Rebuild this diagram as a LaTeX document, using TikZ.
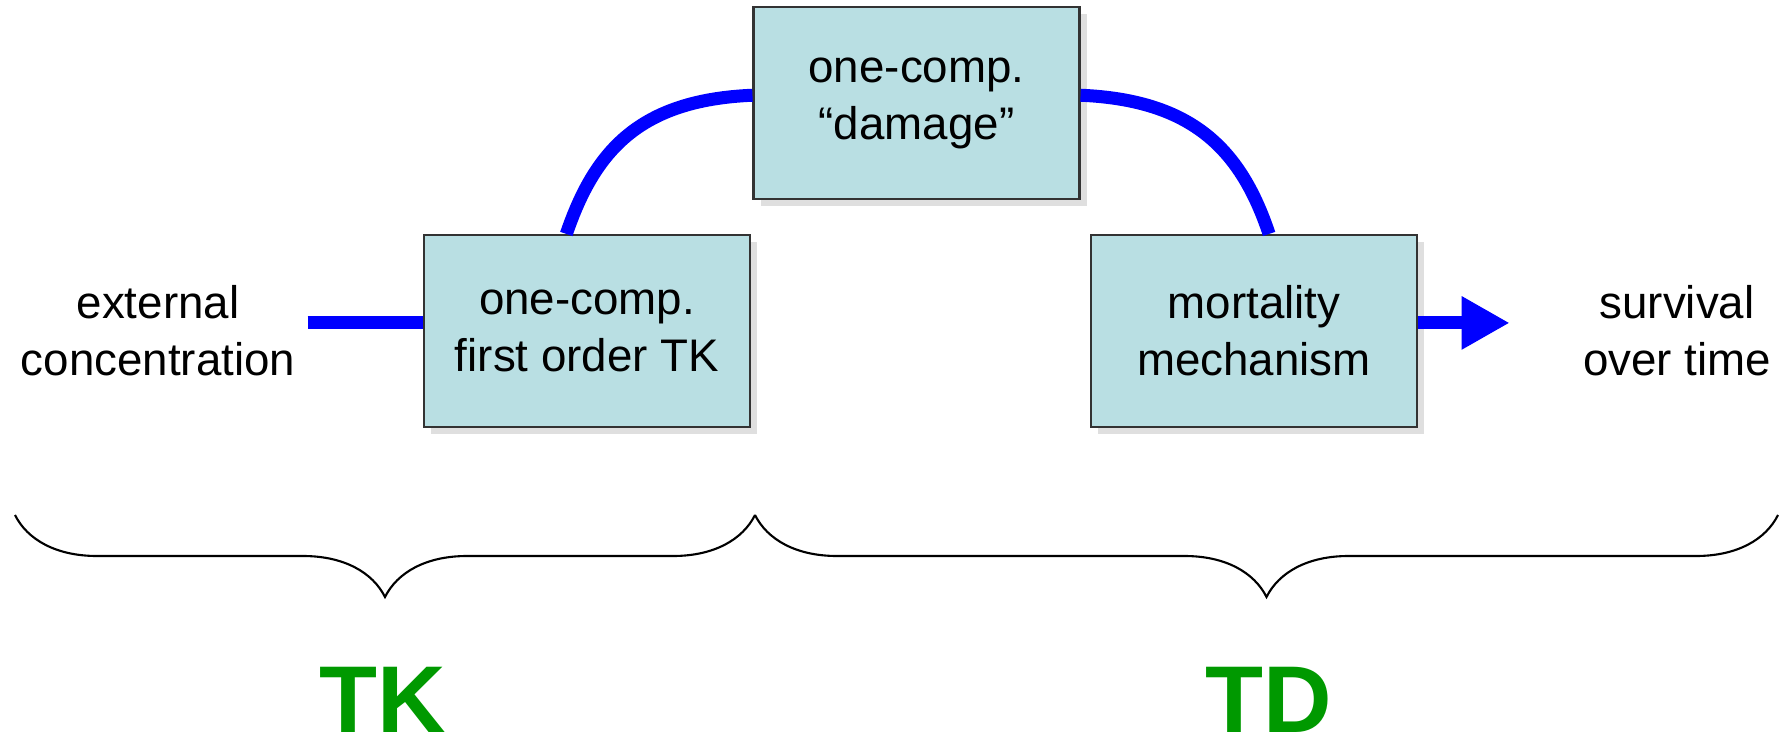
\documentclass[tikz,border=0pt]{standalone}
\usepackage{fontspec}
\setmainfont{Liberation Sans}
\usetikzlibrary{calc,arrows.meta,shadows,decorations.pathreplacing}
\definecolor{boxfill}{RGB}{185,223,227}
\definecolor{partgreen}{RGB}{0,153,0}

\begin{document}
\begin{tikzpicture}[
		compbox/.style={draw=black!80, line width=0.6pt, fill=boxfill, minimum width=3.26cm, minimum height=1.92cm, align=center, font=\fontsize{13}{16.2}\selectfont, drop shadow={shadow xshift=2pt, shadow yshift=-2pt, opacity=0.25}},
		plaintext/.style={align=center, font=\fontsize{13}{16.2}\selectfont},
		flow/.style={draw=blue, line width=3.7pt},
		partlabel/.style={inner sep=0pt, font=\fontsize{27}{30}\selectfont\bfseries, text=partgreen},
		partbrace/.style={decorate, decoration={brace, mirror, amplitude=0.82cm}, line width=0.6pt}
	]
		%%%%% START %%%%%
		\useasboundingbox (0, 0) rectangle (17.87, -7.39);
		
		\node[plaintext] (ext) at (1.58, -3.31) {external\\concentration};
		\node[compbox] (tk) at (5.87, -3.31) {one-comp.\\first order TK};
		\node[compbox] (dmg) at (9.165, -1.03) {one-comp.\\``damage''};
		\node[compbox] (mort) at (12.54, -3.31) {mortality\\mechanism};
		\node[plaintext] (surv) at (16.77, -3.31) {survival\\over time};
		
		\draw[flow] ([yshift=2.3pt]ext.east) -- ([yshift=2.3pt]tk.west);
		\draw[flow] ($(tk.north west)!0.437!(tk.north east)$) .. controls (5.95, -1.50) and (6.40, -1.00) .. ($(dmg.north west)!0.46!(dmg.south west)$);
		\draw[flow] ($(dmg.north east)!0.46!(dmg.south east)$) .. controls (11.93, -1.00) and (12.41, -1.50) .. ($(mort.north west)!0.546!(mort.north east)$);
		\draw[flow, -{Triangle[length=0.48cm, width=0.5cm]}, shorten >=0.61cm] ([yshift=2.3pt]mort.east) -- ([yshift=2.3pt]surv.west);
		
		\coordinate (bl) at (0.15, -5.15);
		\coordinate (bm) at (7.55, -5.15);
		\coordinate (br) at (17.78, -5.15);
		\draw[partbrace] (bl) -- (bm);
		\draw[partbrace] (bm) -- (br);
		
		\node[partlabel] (tklabel) at (3.83, -7.0) {TK};
		\node[partlabel] (tdlabel) at (12.69, -7.0) {TD};
		
		%%%%% END %%%%%
	\end{tikzpicture}
\end{document}
